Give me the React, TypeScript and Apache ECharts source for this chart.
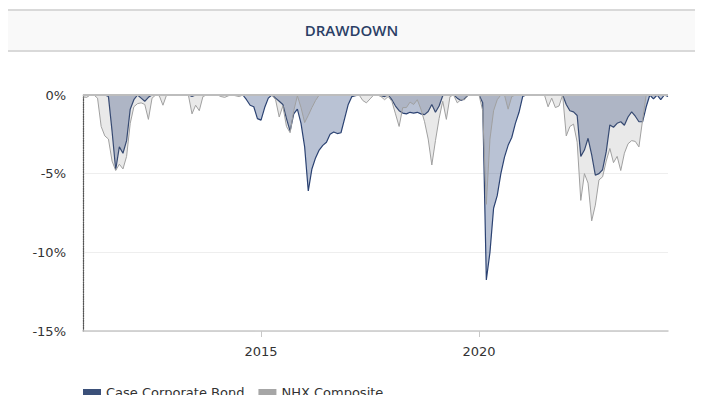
import React, { useEffect, useRef } from "react";
import * as echarts from "echarts";

// Monthly drawdown observations, first point = December 2010
const START_YEAR = 2010;
const START_MONTH = 12;

const caseCorporateBond: number[] = [
  // 2010-12
  0,
  // 2011
  0, 0, 0, 0, 0, 0, -0.1, -2.3, -4.75, -3.3, -3.7, -2.9,
  // 2012
  -0.9, -0.3, 0, -0.2, -0.4, -0.15, 0, 0, 0, 0, 0, 0,
  // 2013
  0, 0, 0, 0, 0, -0.1, 0, 0, 0, 0, 0, 0,
  // 2014
  0, 0, 0, 0, 0, 0, 0, 0, -0.3, -0.65, -0.75, -1.5,
  // 2015
  -1.6, -0.8, -0.2, 0, -0.2, -0.4, -0.6, -1.5, -2.3, -1.2, -0.9, -1.8,
  // 2016
  -3.3, -6.1, -4.7, -4.0, -3.5, -3.2, -3.0, -2.5, -2.35, -2.45, -2.4, -1.5,
  // 2017
  -0.6, -0.1, -0.05, 0, 0, 0, 0, 0, 0, -0.05, -0.1, 0,
  // 2018
  -0.3, -0.7, -1.0, -1.15, -1.2, -1.1, -1.15, -1.1, -1.2, -1.25, -1.05, -0.6,
  // 2019
  -1.1, -0.7, -0.05, 0, 0, 0, -0.2, -0.35, -0.25, 0, 0, 0,
  // 2020
  0, -0.5, -11.75, -10.0, -7.2, -6.4, -5.0, -3.95, -3.2, -2.7, -1.8, -1.1,
  // 2021
  -0.1, 0, 0, 0, 0, 0, 0, 0, 0, 0, 0, 0,
  // 2022
  -0.6, -1.0, -1.07, -1.3, -3.9, -3.5, -2.75, -3.8, -5.1, -5.0, -4.75, -3.6,
  // 2023
  -1.9, -2.05, -1.8, -1.7, -1.92, -1.4, -1.07, -1.35, -1.7, -1.7, -0.75, 0,
  // 2024
  -0.25, 0, -0.3, 0, -0.1,
];

const nhxComposite: number[] = [
  // 2010-12
  -0.12,
  // 2011
  -0.15, 0, 0, -0.2, -2.0, -2.6, -2.8, -4.2, -4.8, -4.4, -4.7, -3.9,
  // 2012
  -1.8, -0.75, -0.55, -0.5, -0.6, -1.55, -0.2, 0, -0.05, -0.65, 0, 0,
  // 2013
  0, 0, 0, 0, 0, -1.2, -0.65, -1.0, -0.1, 0, 0, 0,
  // 2014
  0, -0.1, -0.15, -0.05, 0, -0.05, -0.1, 0, 0, 0, 0, 0,
  // 2015
  0, 0, 0, 0, -0.3, -1.4, -0.7, -2.0, -2.4, -1.0, -0.05, -0.8,
  // 2016
  -1.75, -1.3, -0.8, -0.35, 0, 0, 0, 0, 0, 0, 0, 0,
  // 2017
  0, 0, 0, 0, -0.35, -0.5, -0.25, 0, 0, -0.1, -0.3, -0.1,
  // 2018
  -0.4, -1.2, -2.0, -0.8, -0.8, -0.45, -0.6, -0.3, -0.9, -1.7, -2.8, -4.45,
  // 2019
  -2.9, -1.5, -0.4, -1.55, -0.1, 0, -0.5, -0.3, -0.3, 0, 0, 0,
  // 2020
  0, -1.0, -6.95, -2.8, -1.0, -0.3, 0, 0, -0.9, -0.1, 0, 0,
  // 2021
  0, 0, 0, 0, 0, 0, 0, -0.75, -0.2, -0.8, -0.7, 0,
  // 2022
  -2.6, -2.0, -1.85, -3.0, -6.7, -5.0, -5.6, -8.0, -7.0, -5.4, -5.2, -4.2,
  // 2023
  -3.4, -4.3, -3.9, -4.8, -3.7, -3.1, -2.9, -2.95, -3.3, -1.6, 0, 0,
  // 2024
  0, 0, 0, 0, 0,
];

const seriesNames = ["Case Corporate Bond", "NHX Composite"];
const xTickYears = [2015, 2020];
const yMin = -15;
const yMax = 0;
const yStep = 5;

// month positions expressed as fractional years (Jan = year + 0)
function buildMonthPositions(n: number): number[] {
  const out: number[] = [];
  for (let i = 0; i < n; i++) {
    const idx = START_YEAR * 12 + (START_MONTH - 1) + i;
    out.push(Math.floor(idx / 12) + (idx % 12) / 12);
  }
  return out;
}

const FONT = "DejaVu Sans, Verdana, sans-serif";

export default function App() {
  const ref = useRef<HTMLDivElement>(null);

  useEffect(() => {
    if (!ref.current) return;
    const chart = echarts.init(ref.current, null, { renderer: "svg" });
    const months = buildMonthPositions(caseCorporateBond.length);

    chart.setOption({
      animation: false,
      title: {
        text: "DRAWDOWN",
        left: "center",
        top: 14,
        padding: 0,
        textStyle: {
          fontFamily: "Open Sans, Noto Sans, sans-serif",
          fontSize: 15,
          fontWeight: 600,
          color: "#2b3f66",
        },
      },
      graphic: [
        { type: "rect", z: -1, shape: { x: 0, y: 1, width: 687, height: 42 }, style: { fill: "#f9f9f9" } },
        { type: "rect", z: -1, shape: { x: 0, y: 1, width: 687, height: 2 }, style: { fill: "#d9d9d9" } },
        { type: "rect", z: -1, shape: { x: 0, y: 42, width: 687, height: 2 }, style: { fill: "#d9d9d9" } },
      ],
      legend: {
        data: seriesNames,
        left: 75,
        top: 378,
        icon: "rect",
        itemWidth: 18,
        itemHeight: 7,
        itemGap: 14,
        padding: 0,
        textStyle: { fontFamily: FONT, fontSize: 13, color: "#333" },
      },
      grid: { left: 75, right: 27, top: 87, bottom: 77 },
      xAxis: {
        type: "value",
        min: months[0],
        max: months[months.length - 1],
        axisLine: { onZero: false, lineStyle: { color: "#c8c8c8", width: 1.5 } },
        axisTick: { show: true, length: 6, lineStyle: { color: "#c8c8c8" }, customValues: xTickYears },
        axisLabel: {
          customValues: xTickYears,
          formatter: (v: number) => String(Math.round(v)),
          fontFamily: FONT,
          fontSize: 13,
          color: "#333",
          margin: 14,
        },
        splitLine: { show: false },
      },
      yAxis: {
        type: "value",
        min: yMin,
        max: yMax,
        interval: yStep,
        axisLine: { show: true, lineStyle: { color: "#555", width: 1.3, type: [1.2, 1.2] } },
        axisTick: { show: false },
        splitLine: { show: true, lineStyle: { color: "#eeeeee", width: 1 } },
        axisLabel: {
          formatter: "{value}%",
          fontFamily: FONT,
          fontSize: 13,
          color: "#333",
          margin: 17,
        },
      },
      series: [
        {
          name: seriesNames[0],
          type: "line",
          data: months.map((d, i) => [d, caseCorporateBond[i]]),
          symbol: "none",
          z: 2,
          itemStyle: { color: "#3b5079" },
          lineStyle: { color: "#2b4272", width: 1.2 },
          areaStyle: { color: "rgba(72,96,142,0.55)", origin: "end" },
          emphasis: { disabled: true },
        },
        {
          name: seriesNames[1],
          type: "line",
          data: months.map((d, i) => [d, nhxComposite[i]]),
          symbol: "none",
          z: 3,
          itemStyle: { color: "#a6a6a6" },
          lineStyle: { color: "#a0a0a0", width: 1 },
          areaStyle: { color: "rgba(120,120,120,0.23)", origin: "end" },
          emphasis: { disabled: true },
          markLine: {
            silent: true,
            symbol: "none",
            label: { show: false },
            lineStyle: { color: "#bdbdbd", width: 2, type: "solid" },
            data: [{ yAxis: 0 }],
          },
        },
      ],
    });

    return () => chart.dispose();
  }, []);

  return (
    <div style={{ width: 687, height: 395, overflow: "hidden", marginBottom: -8 }}>
      <div ref={ref} style={{ width: 687, height: 400 }} />
    </div>
  );
}
